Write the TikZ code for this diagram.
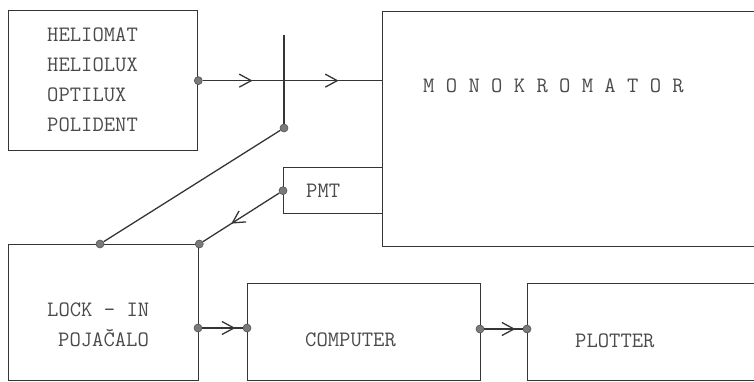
\documentclass[tikz,border=0pt]{standalone}
\usetikzlibrary{positioning,arrows.meta,decorations.markings}
\definecolor{cInk}{HTML}{353535}
\definecolor{cText}{HTML}{4A4A4A}
\definecolor{cDot}{HTML}{7A7A7A}
\tikzset{
  box/.style={draw=cInk, line width=1.3pt, anchor=north west, inner sep=0pt},
  dot/.style={circle, draw=cInk!85, fill=cDot, line width=0.6pt,
              minimum size=8pt, inner sep=0pt},
  lbl/.style={font=\ttfamily\fontsize{22}{30}\selectfont, text=cText,
              anchor=west, align=left, inner sep=0pt},
  wire/.style={draw=cInk, line width=1.3pt},
  midarrow/.style={postaction={decorate, decoration={markings,
      mark=at position #1 with {\arrow{Straight Barb[length=12pt,width=13pt]}}}}},
}

\begin{document}
\begin{tikzpicture}[x=1pt, y=-1pt]
\useasboundingbox (0,0) rectangle (754,382);
\clip (0,0) rectangle (754,382);

% ========== BOXES ==========
\node[box, minimum width=189pt, minimum height=140pt] (src) at (8,10) {};
\node[box, minimum width=390pt, minimum height=235pt] (mono) at (382,11) {};
\node[box, minimum width=99pt, minimum height=46pt] (pmt) at (283,167) {};
\node[box, minimum width=190pt, minimum height=136pt] (lock) at (8,244) {};
\node[box, minimum width=233pt, minimum height=97pt] (comp) at (247,283) {};
\node[box, minimum width=250pt, minimum height=97pt] (plot) at (527,283) {};

% ========== LABELS ==========
\node[lbl] (srcTxt) at (47,80) {HELIOMAT\\HELIOLUX\\OPTILUX\\POLIDENT};
\node[lbl] (monoTxt) at (423,86) {M O N O K R O M A T O R};
\node[lbl] (pmtTxt) at (306,191) {PMT};
\node[lbl] (lockTxt) at (47,310) {LOCK - IN};
\node[lbl] (lockTxtB) at (58,338) {POJAČALO};
\node[lbl] (compTxt) at (305,340) {COMPUTER};
\node[lbl] (plotTxt) at (575,341) {PLOTTER};

% ========== JUNCTIONS ==========
\node[dot] (srcOut) at (src.east) {};
\coordinate (crossTop) at (284,35);
\node[dot] (split) at (284,128) {};
\node[dot] (lockRef) at (100,244) {};
\node[dot] (pmtOut) at (pmt.west) {};
\node[dot] (lockIn) at (lock.north east) {};
\node[dot] (lockOut) at (198,328) {};
\node[dot] (compIn) at (247,328) {};
\node[dot] (compOut) at (480,329) {};
\node[dot] (plotIn) at (527,329) {};

% ========== CONNECTORS ==========
\draw[wire, midarrow=50pt, midarrow=136pt] (srcOut) -- (srcOut -| mono.west);
\draw[wire] (crossTop) -- (split);
\draw[wire] (split) -- (lockRef);
\draw[wire, midarrow=0.63] (pmtOut) -- (lockIn);
\draw[wire, midarrow=33pt] (lockOut) -- (compIn);
\draw[wire, midarrow=31pt] (compOut) -- (plotIn);

\end{tikzpicture}
\end{document}
